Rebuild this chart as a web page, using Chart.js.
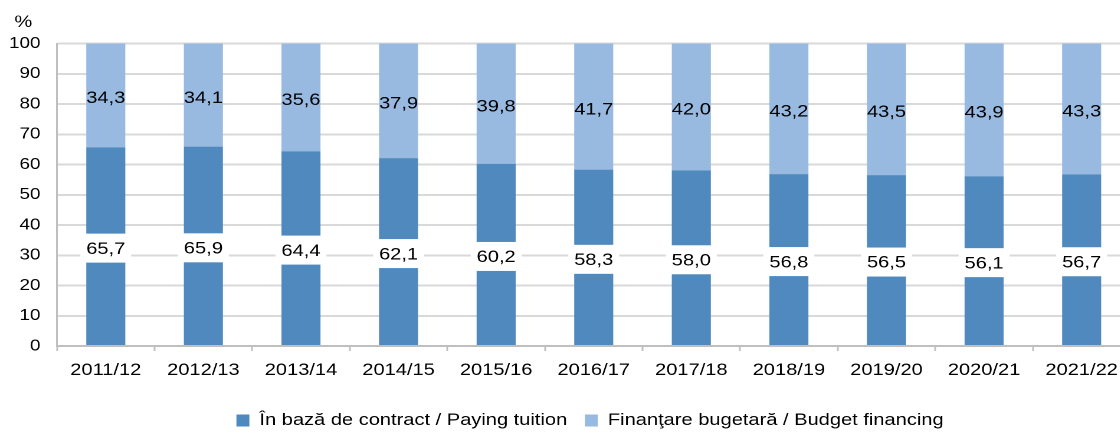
<!DOCTYPE html>
<html>
<head>
<meta charset="utf-8">
<script src="https://cdn.jsdelivr.net/npm/chart.js@4/dist/chart.umd.min.js"></script>
<style>
    html, body { margin: 0; padding: 0; background: #fff; overflow: hidden; width: 1120px; height: 435px; }
    /* the reference is stretched horizontally, so is the canvas */
    #chart { transform: scaleX(1.18); transform-origin: 0 0; display: block; }
</style>
</head>
<body>
<canvas id="chart" width="960" height="439"></canvas>
<script>
// Data
const categories = ['2011/12', '2012/13', '2013/14', '2014/15', '2015/16', '2016/17',
    '2017/18', '2018/19', '2019/20', '2020/21', '2021/22'];
const contractValues = [65.7, 65.9, 64.4, 62.1, 60.2, 58.3, 58.0, 56.8, 56.5, 56.1, 56.7];
const budgetValues = [34.3, 34.1, 35.6, 37.9, 39.8, 41.7, 42.0, 43.2, 43.5, 43.9, 43.3];
const seriesNames = ['În bază de contract / Paying tuition', 'Finanţare bugetară / Budget financing'];
const yTicks = { min: 0, max: 100, step: 10 };
const unitLabel = '%';

const FONT = '"Liberation Sans", Arial, sans-serif';
const DARK_BLUE = '#4f89bd';
const LIGHT_BLUE = '#98b9e0';
const LEGEND_SHIFT = 21;

// Value labels in the middle of each segment
const valueLabels = {
    id: 'valueLabels',
    afterDatasetsDraw(chart) {
        const ctx = chart.ctx;
        ctx.save();
        ctx.font = '17px ' + FONT;
        ctx.textAlign = 'center';
        ctx.textBaseline = 'middle';
        chart.data.datasets.forEach((ds, i) => {
            chart.getDatasetMeta(i).data.forEach((bar, j) => {
                const text = ds.data[j].toFixed(1).replace('.', ',');
                const y = (bar.y + bar.base) / 2 + 2;
                if (ds.labelBox) {
                    const w = ctx.measureText(text).width + 10;
                    ctx.fillStyle = '#fff';
                    ctx.fillRect(bar.x - w / 2, y - 14.5, w, 29);
                }
                ctx.fillStyle = '#000';
                ctx.fillText(text, bar.x, y + 1);
            });
        });
        ctx.restore();
    }
};

// "%" above the value axis, legend nudged to the right like the original
const unitTitle = {
    id: 'unitTitle',
    afterLayout(chart) {
        chart.legend.left += LEGEND_SHIFT;
        chart.legend.right += LEGEND_SHIFT;
    },
    afterDraw(chart) {
        const ctx = chart.ctx;
        const area = chart.chartArea;
        ctx.save();
        ctx.font = '17px ' + FONT;
        ctx.fillStyle = '#000';
        ctx.textAlign = 'center';
        ctx.textBaseline = 'middle';
        ctx.fillText(unitLabel, area.left - 28.5, area.top - 21);
        ctx.restore();
    }
};

new Chart(document.getElementById('chart'), {
    type: 'bar',
    data: {
        labels: categories,
        datasets: [
            {
                label: seriesNames[0],
                data: contractValues,
                backgroundColor: DARK_BLUE,
                labelBox: true,
            },
            {
                label: seriesNames[1],
                data: budgetValues,
                backgroundColor: LIGHT_BLUE,
                labelBox: false,
            },
        ]
    },
    options: {
        responsive: false,
        animation: false,
        devicePixelRatio: 2,
        layout: {
            padding: { top: 43.5, left: 0, right: 2, bottom: 0 }
        },
        datasets: {
            bar: { categoryPercentage: 1, barPercentage: 0.4 }
        },
        scales: {
            x: {
                stacked: true,
                afterFit(scale) { scale.height = 51; },
                grid: {
                    drawOnChartArea: false,
                    drawTicks: true,
                    tickLength: 5,
                    tickWidth: 1.5,
                    tickColor: '#bfbfbf',
                },
                border: { color: '#bfbfbf', width: 2 },
                ticks: {
                    padding: 9,
                    color: '#000',
                    font: { family: FONT, size: 17 },
                    maxRotation: 0,
                }
            },
            y: {
                stacked: true,
                min: yTicks.min,
                max: yTicks.max,
                afterFit(scale) { scale.width = 48.3; },
                grid: {
                    color: '#d9d9d9',
                    lineWidth: 2,
                    drawTicks: false,
                },
                border: { color: '#bfbfbf', width: 1.5 },
                ticks: {
                    stepSize: yTicks.step,
                    padding: 14,
                    color: '#000',
                    font: { family: FONT, size: 16 },
                }
            }
        },
        plugins: {
            legend: {
                position: 'bottom',
                labels: {
                    boxWidth: 11,
                    boxHeight: 12,
                    padding: 15,
                    color: '#000',
                    font: { family: FONT, size: 17 },
                }
            },
            tooltip: { enabled: false }
        }
    },
    plugins: [valueLabels, unitTitle]
});
</script>
</body>
</html>
